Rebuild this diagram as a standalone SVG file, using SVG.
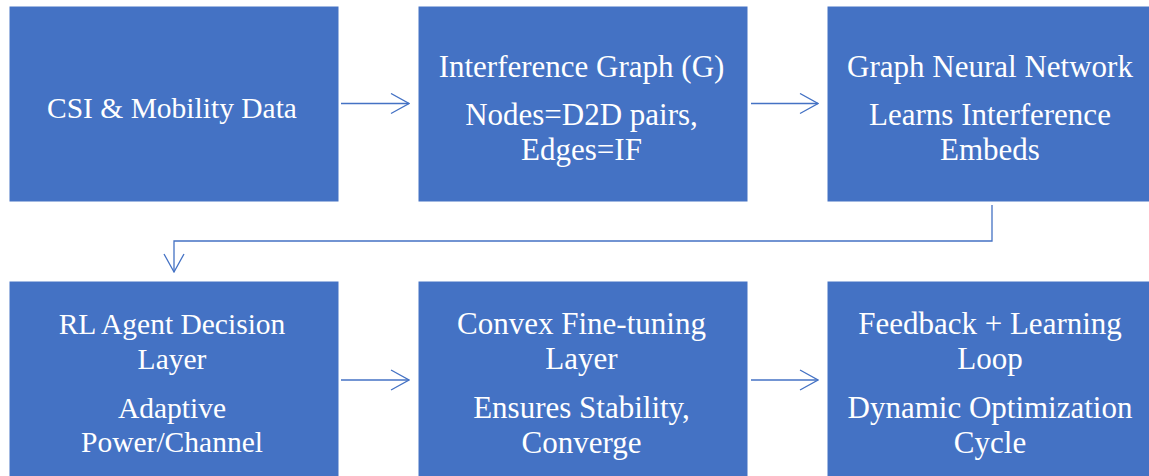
<svg xmlns="http://www.w3.org/2000/svg" width="1149" height="476" viewBox="0 0 1149 476">
<style>
.box{fill:#4472C4;stroke:#ffffff;stroke-width:1}
.t{font-family:"Liberation Serif","Times New Roman",serif;font-size:29.5px;fill:#ffffff;text-anchor:middle}
.l{font-size:31px}
.c{fill:none;stroke:#4472C4;stroke-width:1.3}
</style>
<defs>
<marker id="ah" viewBox="0 0 20 22" refX="19" refY="11" markerWidth="20" markerHeight="22" markerUnits="userSpaceOnUse" orient="auto">
<path d="M1,1 L19,11 L1,21" fill="none" stroke="#4472C4" stroke-width="1.3"/>
</marker>
</defs>
<rect width="1149" height="476" fill="#ffffff"/>
<g id="connectors">
<line class="c" x1="341" y1="103.5" x2="409" y2="103.5" marker-end="url(#ah)"/>
<line class="c" x1="751" y1="103.5" x2="818" y2="103.5" marker-end="url(#ah)"/>
<path class="c" d="M992,205 V241 H174 V272" marker-end="url(#ah)"/>
<line class="c" x1="341" y1="380" x2="409" y2="380" marker-end="url(#ah)"/>
<line class="c" x1="751" y1="380" x2="818" y2="380" marker-end="url(#ah)"/>
</g>
<g id="n1">
<rect class="box" x="9" y="6" width="330" height="196"/>
<text class="t" x="172" y="118">CSI &amp; Mobility Data</text>
</g>
<g id="n2">
<rect class="box" x="418" y="6" width="330" height="196"/>
<text class="t l" x="581.5" y="77">Interference Graph (G)</text>
<text class="t l" x="581.5" y="125">Nodes=D2D pairs,</text>
<text class="t l" x="581.5" y="160">Edges=IF</text>
</g>
<g id="n3">
<rect class="box" x="827" y="6" width="330" height="196"/>
<text class="t l" x="990" y="77">Graph Neural Network</text>
<text class="t l" x="990" y="125">Learns Interference</text>
<text class="t l" x="990" y="160">Embeds</text>
</g>
<g id="n4">
<rect class="box" x="9" y="281" width="330" height="196"/>
<text class="t" x="172" y="334">RL Agent Decision</text>
<text class="t" x="172" y="369">Layer</text>
<text class="t" x="172" y="418">Adaptive</text>
<text class="t" x="172" y="452">Power/Channel</text>
</g>
<g id="n5">
<rect class="box" x="418" y="281" width="330" height="196"/>
<text class="t l" x="581.5" y="334">Convex Fine-tuning</text>
<text class="t l" x="581.5" y="369">Layer</text>
<text class="t l" x="581.5" y="418">Ensures Stability,</text>
<text class="t l" x="581.5" y="453">Converge</text>
</g>
<g id="n6">
<rect class="box" x="827" y="281" width="330" height="196"/>
<text class="t l" x="990" y="334">Feedback + Learning</text>
<text class="t l" x="990" y="369">Loop</text>
<text class="t l" x="990" y="418">Dynamic Optimization</text>
<text class="t l" x="990" y="453">Cycle</text>
</g>
</svg>
